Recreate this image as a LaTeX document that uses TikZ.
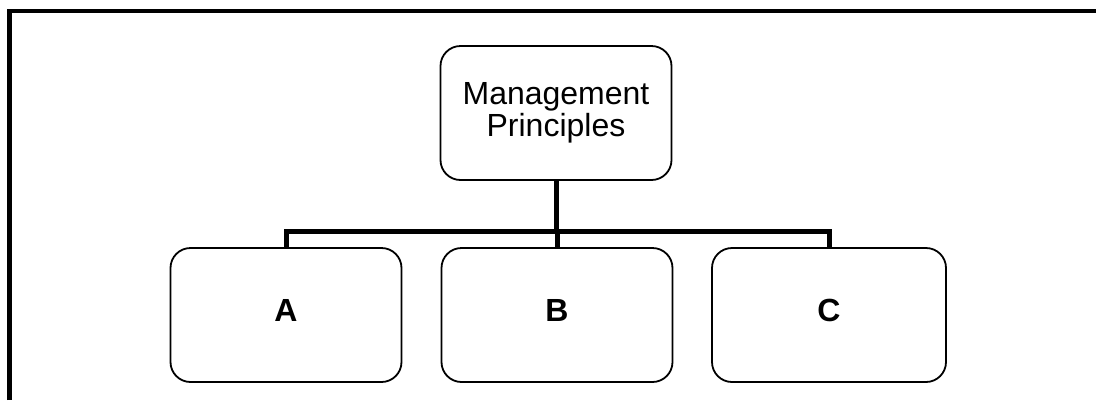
\documentclass[tikz,border=0pt]{standalone}
\usepackage{fontspec}
\setmainfont{Liberation Sans}
\begin{document}
\begin{tikzpicture}[x=1pt,y=-1pt]
\tikzstyle{box} = [draw,line width=1.8pt,rounded corners=20pt,minimum width=231pt,minimum height=134pt,inner sep=0pt,align=center] %cases
\tikzstyle{lettre} = [box,font=\fontsize{32}{32}\selectfont\bfseries,text depth=9pt] %A B C
\tikzstyle{lien} = [line width=5pt] %traits
\useasboundingbox (0,0) rectangle (1096,400);
%cadre
\draw[line width=4.5pt] (9.5,400)--(9.5,11)--(1096,11);
%cases
\node[box,font=\fontsize{32}{32.5}\selectfont](mgmt) at (556,113) {Management\\Principles};
\node[lettre](a) at (286,315) {A};
\node[lettre](b) at (557,315) {B};
\node[lettre,minimum width=234pt](c) at (829,315) {C};
%liens
\coordinate (bus) at (557,231);
\draw[lien] (mgmt.south)--(mgmt.south|-bus);
\draw[lien] (a.north)|-(bus);
\draw[lien] (c.north)|-(bus);
\draw[lien] (bus)--(b.north);
\end{tikzpicture}
\end{document}
